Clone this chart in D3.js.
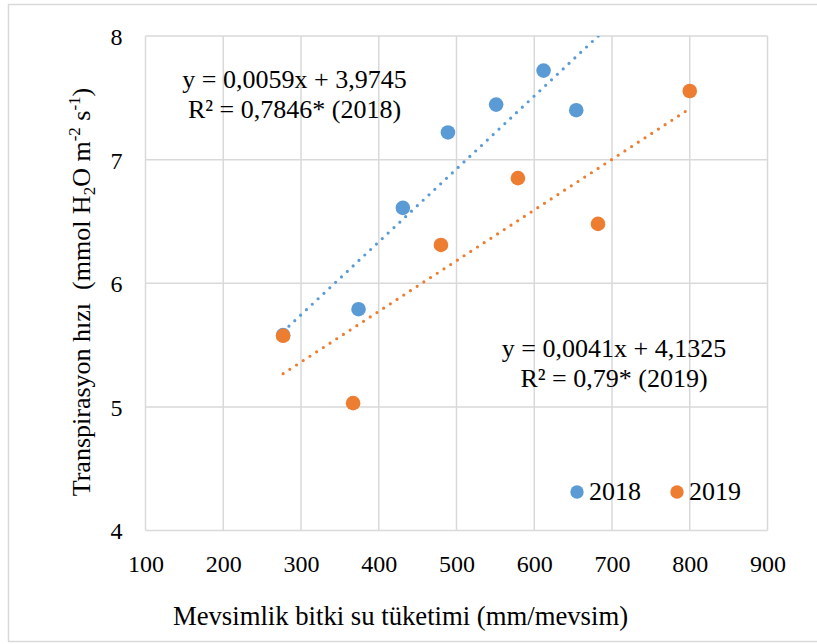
<!DOCTYPE html>
<html>
<head>
<meta charset="utf-8">
<script src="https://cdn.jsdelivr.net/npm/d3@7"></script>
<style>
  html, body { margin: 0; padding: 0; background: #fff; }
  svg { display: block; font-family: "Liberation Serif", "Times New Roman", serif; }
</style>
</head>
<body>
<svg id="chart" width="817" height="644"></svg>
<script>
// Seasonal crop water use (mm/season) vs. transpiration rate
const series = ["2018", "2019"];
const use2018 = [277, 374, 431, 489, 551, 612, 654];
const trans2018 = [5.58, 5.79, 6.61, 7.22, 7.445, 7.72, 7.40];
const use2019 = [277, 367, 480, 579, 682, 800];
const trans2019 = [5.575, 5.03, 6.31, 6.85, 6.48, 7.555];

// Linear fits as reported on the chart
const slopes = [0.0059, 0.0041];
const intercepts = [3.9745, 4.1325];
const eqLines2018 = ["y = 0,0059x + 3,9745", "R² = 0,7846* (2018)"];
const eqLines2019 = ["y = 0,0041x + 4,1325", "R² = 0,79* (2019)"];

const xTicks = [100, 200, 300, 400, 500, 600, 700, 800, 900];
const yTicks = [4, 5, 6, 7, 8];
const xTitle = "Mevsimlik bitki su tüketimi (mm/mevsim)";

const colors = ["#5B9BD5", "#ED7D31"];
const grid = "#d9d9d9";

const svg = d3.select("#chart");

// outer frame
svg.append("rect")
  .attr("x", 8.5).attr("y", 4.5).attr("width", 830).attr("height", 637)
  .attr("fill", "none").attr("stroke", grid).attr("stroke-width", 1.5);

const x = d3.scaleLinear().domain([100, 900]).range([145.5, 767.5]);
const y = d3.scaleLinear().domain([4, 8]).range([530.5, 36]);

// gridlines
const g = svg.append("g");
g.selectAll("line.v").data(xTicks).join("line")
  .attr("x1", d => x(d)).attr("x2", d => x(d))
  .attr("y1", y(4)).attr("y2", y(8))
  .attr("stroke", grid).attr("stroke-width", 1.5);
g.selectAll("line.h").data(yTicks).join("line")
  .attr("x1", x(100)).attr("x2", x(900))
  .attr("y1", d => y(d)).attr("y2", d => y(d))
  .attr("stroke", grid).attr("stroke-width", 1.5);

// axes (labels only, lines come from the grid)
const xAxis = svg.append("g").attr("transform", `translate(0,${y(4)})`)
  .call(d3.axisBottom(x).tickValues(xTicks).tickSize(0).tickPadding(0).tickFormat(d3.format("d")));
xAxis.select(".domain").remove();
xAxis.selectAll("text")
  .attr("y", 41).attr("dy", null)
  .attr("font-size", 24).attr("fill", "#000")
  .style("font-family", "Liberation Serif");

const yAxis = svg.append("g").attr("transform", `translate(${x(100)},0)`)
  .call(d3.axisLeft(y).tickValues(yTicks).tickSize(0).tickPadding(0).tickFormat(d3.format("d")));
yAxis.select(".domain").remove();
yAxis.selectAll("text")
  .attr("x", -23).attr("dy", "0.35em")
  .attr("font-size", 24).attr("fill", "#000")
  .style("font-family", "Liberation Serif");

// clip region for trendlines
svg.append("clipPath").attr("id", "plotClip")
  .append("rect").attr("x", x(100)).attr("y", y(8))
  .attr("width", x(900) - x(100)).attr("height", y(4) - y(8));

const data = [
  use2018.map((u, i) => ({ u, t: trans2018[i] })),
  use2019.map((u, i) => ({ u, t: trans2019[i] }))
];

// dotted linear trendlines over the common water-use range
const line = d3.line().x(d => x(d[0])).y(d => y(d[1]));
const [lo, hi] = d3.extent(use2018.concat(use2019));
data.forEach((pts, k) => {
  const f = v => slopes[k] * v + intercepts[k];
  svg.append("path")
    .attr("clip-path", "url(#plotClip)")
    .attr("d", line([[lo, f(lo)], [hi, f(hi)]]))
    .attr("fill", "none").attr("stroke", colors[k])
    .attr("stroke-width", 3.2).attr("stroke-linecap", "round")
    .attr("stroke-dasharray", "0 8");
});

// markers
data.forEach((pts, k) => {
  svg.append("g").selectAll("circle").data(pts).join("circle")
    .attr("cx", d => x(d.u)).attr("cy", d => y(d.t))
    .attr("r", 7.3).attr("fill", colors[k]);
});

// equation labels
function eq(lines, cx, baseline) {
  svg.append("text").attr("x", cx).attr("y", baseline)
    .attr("text-anchor", "middle").attr("font-size", 26).attr("fill", "#000")
    .selectAll("tspan").data(lines).join("tspan")
    .attr("x", cx).attr("dy", (d, i) => i === 0 ? 0 : 30)
    .text(d => d);
}
eq(eqLines2018, 294.5, 88);
eq(eqLines2019, 614, 357);

// legend
const legendX = [577, 677];
series.forEach((s, k) => {
  svg.append("circle").attr("cx", legendX[k]).attr("cy", 492).attr("r", 6.7).attr("fill", colors[k]);
  svg.append("text").attr("x", legendX[k] + 12).attr("y", 500)
    .attr("font-size", 26).attr("fill", "#000").text(s);
});

// x title
svg.append("text").attr("x", 400.5).attr("y", 625)
  .attr("text-anchor", "middle").attr("font-size", 26.7).attr("fill", "#000")
  .text(xTitle);

// y title with sub/superscripts
const yt = svg.append("text")
  .attr("transform", "translate(90,292) rotate(-90)")
  .attr("text-anchor", "middle").attr("font-size", 26).attr("fill", "#000");
yt.append("tspan").text("Transpirasyon hızı\u00a0\u00a0(mmol H");
yt.append("tspan").attr("font-size", 17).attr("dy", 5).text("2");
yt.append("tspan").attr("dy", -5).text("O m");
yt.append("tspan").attr("font-size", 17).attr("dy", -10).text("-2");
yt.append("tspan").attr("dy", 10).text(" s");
yt.append("tspan").attr("font-size", 17).attr("dy", -10).text("-1");
yt.append("tspan").attr("dy", 10).text(")");
</script>
</body>
</html>
